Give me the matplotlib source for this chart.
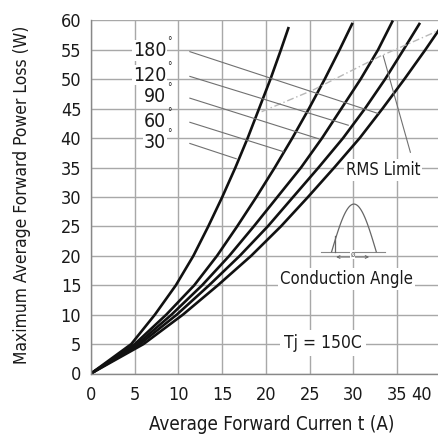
import numpy as np
import matplotlib
matplotlib.use("Agg")
import matplotlib.pyplot as plt
import matplotlib.transforms as mtransforms

plt.rcParams['font.family'] = ['DejaVu Sans']
plt.rcParams['font.stretch'] = 'condensed'

# conduction angle curves (I in A, P in W)
angles = ['30', '60', '90', '120', '180']

i_30 = [0, 4.6, 7.3, 9.7, 11.7, 13.4, 15.0, 16.5, 17.9, 19.2, 20.5, 21.7, 22.6]
p_30 = [0, 5, 10, 15, 20, 25, 30, 35, 40, 45, 50, 55, 58.9]

i_60 = [0, 5.0, 8.6, 11.8, 14.4, 16.7, 18.9, 21.0, 23.0, 24.9, 26.7, 28.4, 29.9]
p_60 = [0, 5, 10, 15, 20, 25, 30, 35, 40, 45, 50, 55, 59.6]

i_90 = [0, 5.3, 9.2, 12.7, 15.8, 18.6, 21.3, 24.0, 26.4, 28.6, 30.8, 32.8, 34.5]
p_90 = [0, 5, 10, 15, 20, 25, 30, 35, 40, 45, 50, 55, 60]

i_120 = [0, 5.6, 9.8, 13.5, 17.0, 20.2, 23.1, 26.0, 28.8, 31.3, 33.6, 35.7, 37.6]
p_120 = [0, 5, 10, 15, 20, 25, 30, 35, 40, 45, 50, 55, 59.6]

i_180 = [0, 6.0, 10.5, 14.5, 18.3, 21.7, 24.8, 27.8, 30.7, 33.3, 35.8, 38.2, 40.5]
p_180 = [0, 5, 10, 15, 20, 25, 30, 35, 40, 45, 50, 55, 60]

# RMS limit line
rms_i = [19.5, 25.4, 33.0, 40.5]
rms_p = [44.5, 48.2, 53.9, 58.8]

# leader lines from the angle labels to the curves
label_p = [39.1, 42.7, 46.8, 50.5, 54.7]
leader_end_i = [16.6, 22.0, 26.0, 29.4, 32.8]
leader_end_p = [36.5, 37.7, 39.9, 42.2, 44.2]

x_ticks = [0, 5, 10, 15, 20, 25, 30, 35, 40]
y_ticks = [0, 5, 10, 15, 20, 25, 30, 35, 40, 45, 50, 55, 60]

grid_col = '#a8a8a8'
text_col = '#1a1a1a'

fig = plt.figure(figsize=(4.39, 4.38), dpi=100)
ax = fig.add_axes([91 / 439, 64.5 / 438, 350 / 439, 353 / 438])
ax.set_xlim(0, 40)
ax.set_ylim(0, 60)
ax.set_xticks(x_ticks)
ax.set_yticks(y_ticks)
ax.tick_params(length=0, labelsize=13, colors=text_col)
ax.tick_params(axis='x', pad=9)
ax.tick_params(axis='y', pad=7)
ax.grid(True, color=grid_col, lw=1.0)
ax.set_axisbelow(True)
for side in ['top', 'right']:
    ax.spines[side].set_visible(False)
for side in ['left', 'bottom']:
    ax.spines[side].set_color('#888888')
    ax.spines[side].set_linewidth(1.0)

# last x tick label sits left of its grid line (picture is cut on the right)
lbls = ax.get_xticklabels()
off = mtransforms.ScaledTranslation(-19 / 100, 0, fig.dpi_scale_trans)
lbls[-1].set_transform(lbls[-1].get_transform() + off)

curves = [(i_30, p_30), (i_60, p_60), (i_90, p_90), (i_120, p_120), (i_180, p_180)]
for ci, cp in curves:
    ax.plot(ci, cp, color='#111111', lw=1.9, solid_capstyle='butt')

ax.plot(rms_i, rms_p, color='#b8b8b8', lw=1.0, ls=(0, (5, 2, 1, 2)))

for k, a in enumerate(angles):
    ax.plot([11.3, leader_end_i[k]], [label_p[k], leader_end_p[k]],
            color='#707070', lw=0.8)
    ax.text(8.6, label_p[k] + 0.2, a, ha='right', va='center',
            fontsize=14, color=text_col,
            bbox=dict(facecolor='white', edgecolor='none', pad=0.5))
    ax.text(8.7, label_p[k] + 1.8, '°', ha='left', va='center',
            fontsize=7, color=text_col)

# RMS limit label and leader
ax.plot([36.5, 33.4], [37.6, 54.0], color='#707070', lw=0.8)
ax.text(33.4, 34.6, 'RMS Limit', ha='center', va='center', fontsize=12,
        color=text_col, bbox=dict(facecolor='white', edgecolor='none', pad=1.5))

# conduction angle icon
ax.plot([26.3, 33.6], [20.7, 20.7], color='#888888', lw=0.8)
th = np.linspace(0, np.pi, 40)
ax.plot(27.5 + (32.6 - 27.5) * th / np.pi, 20.7 + 8.1 * np.sin(th),
        color='#666666', lw=0.9)
ax.plot([27.9, 27.9], [20.7, 23.3], color='#666666', lw=0.9)
ax.annotate('', xy=(27.7, 19.8), xytext=(32.1, 19.8),
            arrowprops=dict(arrowstyle='<->', color='#666666', lw=0.7,
                            mutation_scale=5))
ax.text(29.9, 20.2, 'ø', ha='center', va='center', fontsize=6,
        color='#666666',
        bbox=dict(facecolor='white', edgecolor='none', pad=0.2))

ax.text(29.2, 16.0, 'Conduction Angle', ha='center', va='center',
        fontsize=12, color=text_col,
        bbox=dict(facecolor='white', edgecolor='none', pad=1.5))
ax.text(26.5, 5.2, 'Tj = 150C', ha='center', va='center', fontsize=12.5,
        color=text_col,
        bbox=dict(facecolor='white', edgecolor='none', pad=3))

fig.text(272 / 439, 1 - 425 / 438, 'Average Forward Curren t (A)',
         ha='center', va='center', fontsize=13.5, color=text_col)
fig.text(22 / 439, 1 - 195 / 438, 'Maximum Average Forward Power Loss (W)',
         ha='center', va='center', rotation=90, fontsize=12.5,
         color=text_col)

fig.savefig('out.png', dpi=100)
